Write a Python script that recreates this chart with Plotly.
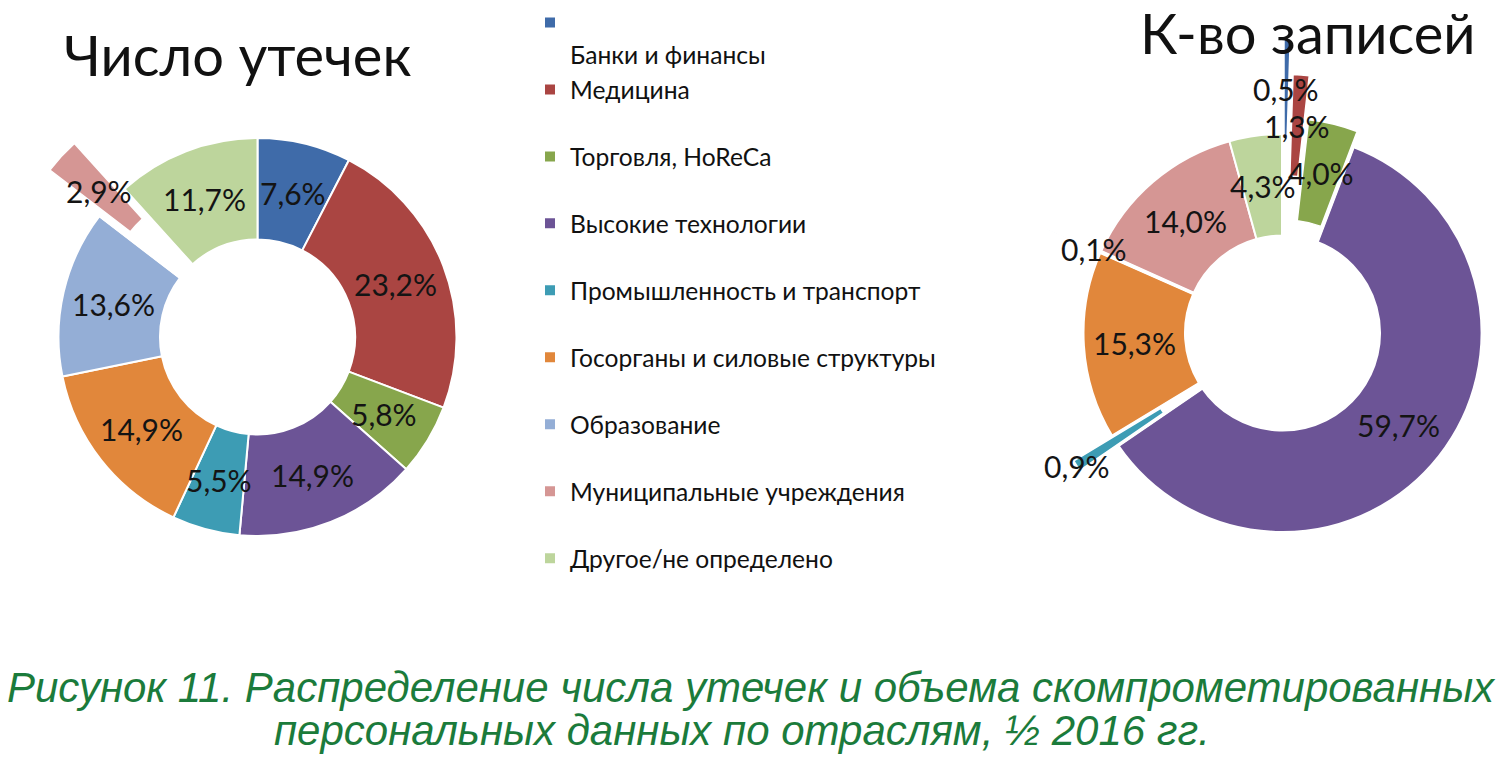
import math
import plotly.graph_objects as go

# ---------------- data ----------------
categories = ["Банки и финансы", "Медицина", "Торговля, HoReCa", "Высокие технологии",
              "Промышленность и транспорт", "Госорганы и силовые структуры",
              "Образование", "Муниципальные учреждения", "Другое/не определено"]
leaks_pct = [7.6, 23.2, 5.8, 14.9, 5.5, 14.9, 13.6, 2.9, 11.7]      # Число утечек
records_pct = [0.5, 1.3, 4.0, 59.7, 0.9, 15.3, 0.1, 14.0, 4.3]      # К-во записей
chart_titles = ["Число утечек", "К-во записей"]
caption_lines = ["Рисунок 11. Распределение числа утечек и объема скомпрометированных",
                 "персональных данных по отраслям, ½ 2016 гг."]

# ---------------- style ----------------
colors = ["#3F6BA9", "#AA4542", "#87A64C", "#6C5496", "#3D9CB4",
          "#E1873B", "#94AED6", "#D59694", "#BDD59C"]
W, H = 1500, 757
R = 199          # outer radius in px
HOLE = 0.49
FONT = "Lato, 'Open Sans', 'Noto Sans', sans-serif"
LEFT = dict(cx=257.5, cy=337, pulls={7: 0.34}, outer_labels=set())
RIGHT = dict(cx=1282.5, cy=333, pulls={0: 0.48, 1: 0.30, 2: 0.08, 4: 0.23, 6: 0.29},
             outer_labels={4})
CLEAR = "rgba(0,0,0,0)"

# legend labels: first entry wraps onto a second line, as in the original
legend_labels = ["<br>" + categories[0]] + [c + "<br> " for c in categories[1:]]


def domain(x0, y0):
    return dict(x=[(x0 - R) / W, (x0 + R) / W], y=[1 - (y0 + R) / H, 1 - (y0 - R) / H])


def fmt(v):
    return f"{v:.1f}".replace(".", ",") + "%"


fig = go.Figure()
annotations = []


def add_donut(values, cfg, legend):
    total = sum(values)
    cx, cy, pulls = cfg["cx"], cfg["cy"], cfg["pulls"]
    n = len(values)
    common = dict(labels=legend_labels, values=values, hole=HOLE, sort=False,
                  direction="clockwise", rotation=0, textinfo="none", hoverinfo="skip")
    # whole ring
    fig.add_trace(go.Pie(domain=domain(cx, cy), showlegend=legend,
                         marker=dict(colors=colors, line=dict(color="white", width=2)),
                         **common))
    # blank out the exploded slices at their home position
    if pulls:
        fig.add_trace(go.Pie(
            domain=domain(cx, cy), showlegend=False,
            marker=dict(colors=["white" if i in pulls else CLEAR for i in range(n)],
                        line=dict(color="white",
                                  width=[3 if i in pulls else 0 for i in range(n)])),
            **common))
    cum = 0.0
    for i, v in enumerate(values):
        theta = 2 * math.pi * (cum + v / 2) / total
        cum += v
        d = pulls.get(i, 0) * R
        sx, sy = cx + d * math.sin(theta), cy - d * math.cos(theta)
        if i in pulls:
            # exploded slice: same ring, centre moved outward along the slice bisector
            fig.add_trace(go.Pie(
                domain=domain(sx, sy), showlegend=False,
                marker=dict(colors=[colors[j] if j == i else CLEAR for j in range(n)],
                            line=dict(color="white",
                                      width=[1.5 if j == i else 0 for j in range(n)])),
                **common))
        rl = R if i in cfg["outer_labels"] else R * (1 + HOLE) / 2
        lx, ly = sx + rl * math.sin(theta), sy - rl * math.cos(theta)
        annotations.append(dict(x=lx / W, y=1 - ly / H, xref="paper", yref="paper",
                                text=fmt(v), showarrow=False, xanchor="center",
                                yanchor="middle", font=dict(family=FONT, size=30, color="#141414")))


add_donut(leaks_pct, LEFT, True)
add_donut(records_pct, RIGHT, False)

annotations.append(dict(x=237 / W, y=1 - 55 / H, xref="paper", yref="paper", text=chart_titles[0],
                        showarrow=False, xanchor="center", yanchor="middle",
                        font=dict(family=FONT, size=56, color="#111111")))
annotations.append(dict(x=1308 / W, y=1 - 32 / H, xref="paper", yref="paper", text=chart_titles[1],
                        showarrow=False, xanchor="center", yanchor="middle",
                        font=dict(family=FONT, size=56, color="#111111")))
for txt, yc, xc in zip(caption_lines, [687, 730], [751, 742]):
    annotations.append(dict(x=xc / W, y=1 - yc / H, xref="paper", yref="paper",
                            text="<i>" + txt + "</i>",
                            showarrow=False, xanchor="center", yanchor="middle",
                            font=dict(family="'Liberation Sans', Arial, sans-serif", size=42,
                                      color="#1B7B3B")))

fig.update_layout(
    width=W, height=H, autosize=False,
    margin=dict(l=0, r=0, t=0, b=0, pad=0, autoexpand=False),
    paper_bgcolor="white", plot_bgcolor="white",
    font=dict(family=FONT, color="#111111"),
    annotations=annotations,
    legend=dict(x=530 / W, xanchor="left", y=1, yanchor="top", valign="top",
                traceorder="normal", bgcolor=CLEAR, borderwidth=0,
                font=dict(family=FONT, size=24.6, color="#111111"), itemclick=False,
                itemdoubleclick=False),
)

fig.write_html("out.html", config={"displayModeBar": False},
               post_script="document.body.style.margin='0';")
